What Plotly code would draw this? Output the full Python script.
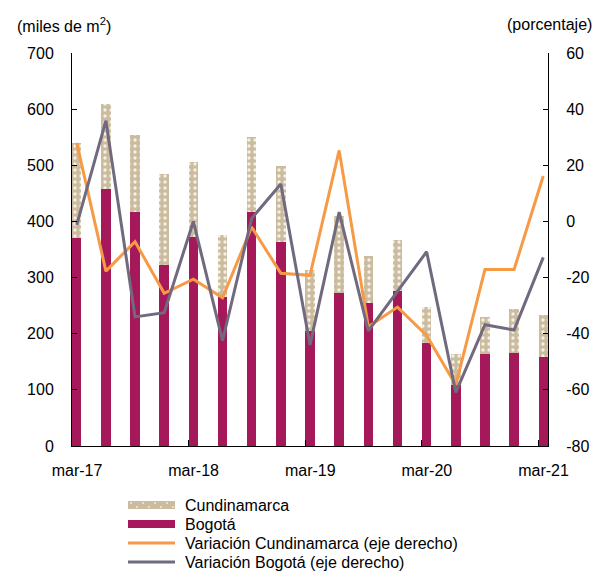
import plotly.graph_objects as go

# quarterly data, mar-17 .. mar-21
quarters = ['mar-17', 'jun-17', 'sep-17', 'dic-17', 'mar-18', 'jun-18', 'sep-18', 'dic-18',
            'mar-19', 'jun-19', 'sep-19', 'dic-19', 'mar-20', 'jun-20', 'sep-20', 'dic-20', 'mar-21']
bogota = [371, 458, 417, 322, 372, 266, 417, 364, 205, 272, 255, 276, 184, 108, 163, 166, 159]
cundinamarca = [169, 152, 137, 162, 133, 109, 134, 134, 109, 138, 84, 91, 64, 56, 67, 78, 75]
var_cundinamarca = [28, -17.7, -7.2, -25.6, -20.6, -27.2, -2, -18.5, -19.2, 25.3, -37.5, -30.5,
                    -40.6, -58.3, -17.1, -17.1, 16.2]
var_bogota = [-1.2, 35.9, -34, -32.5, 0, -42.5, 1.1, 13.3, -44, 3.3, -39, -25, -10.8, -60.9,
              -36.8, -38.7, -12.8]
x_tick_labels = ['mar-17', 'mar-18', 'mar-19', 'mar-20', 'mar-21']
y2_tick_vals = [-80, -60, -40, -20, 0, 20, 40, 60]
y2_tick_labels = ['-80', '-60', '-40', '-20', '0', '20', '40', '60']

MAGENTA = '#A5195B'
BEIGE = '#CBBC9F'
ORANGE = '#F79A46'
GRAY = '#716A7F'
FONT = 'Liberation Sans, Arial, sans-serif'

w = 0.325  # bar width in quarter units, bars start at their date
idx = list(range(len(quarters)))
bar_x = [i + w / 2 for i in idx]

fig = go.Figure()
fig.add_trace(go.Bar(x=bar_x, y=bogota, width=w, name='Bogotá',
                     marker=dict(color=MAGENTA, line=dict(width=0)), showlegend=False))
fig.add_trace(go.Bar(x=bar_x, y=cundinamarca, width=w, name='Cundinamarca',
                     marker=dict(color=BEIGE, line=dict(width=0),
                                 pattern=dict(shape='.', fillmode='replace', bgcolor=BEIGE,
                                              fgcolor='#F4F0E6', size=6, solidity=0.25)),
                     showlegend=False))
fig.add_trace(go.Scatter(x=bar_x, y=var_cundinamarca, yaxis='y2', mode='lines',
                         name='Variación Cundinamarca (eje derecho)',
                         line=dict(color=ORANGE, width=3), showlegend=False))
fig.add_trace(go.Scatter(x=bar_x, y=var_bogota, yaxis='y2', mode='lines',
                         name='Variación Bogotá (eje derecho)',
                         line=dict(color=GRAY, width=3), showlegend=False))

# page body has an 8px margin, so the figure is 8px smaller and everything shifts by 8
fig.update_layout(
    width=593, height=567,
    margin=dict(l=64, r=53, t=45, b=129),
    paper_bgcolor='white', plot_bgcolor='white',
    barmode='stack',
    font=dict(family=FONT, size=16, color='black'),
    xaxis=dict(range=[0, 16 + w], tickvals=[0, 4, 8, 12, 16], ticktext=x_tick_labels,
               ticks='inside', ticklen=6, tickcolor='black', showline=True, linecolor='black',
               linewidth=1, showgrid=False, zeroline=False, ticklabelshift=5,
               ticklabelstandoff=10),
    yaxis=dict(range=[0, 700], dtick=100, ticks='inside', ticklen=5, tickcolor='black',
               showline=True, linecolor='black', linewidth=1, showgrid=False, zeroline=False,
               ticklabelstandoff=14),
    yaxis2=dict(range=[-80, 60], tickvals=y2_tick_vals, ticktext=y2_tick_labels,
                overlaying='y', side='right', ticks='inside',
                ticklen=5, tickcolor='black', showline=True, linecolor='black', linewidth=1,
                showgrid=False, zeroline=False, ticklabelstandoff=14),
    showlegend=False,
)

fig.add_annotation(text='(miles de m<sup>2</sup>)', xref='paper', yref='paper',
                   x=-0.12, y=1.072, xanchor='left', yanchor='middle', showarrow=False,
                   font=dict(size=16))
fig.add_annotation(text='(porcentaje)', xref='paper', yref='paper',
                   x=1.097, y=1.072, xanchor='right', yanchor='middle', showarrow=False,
                   font=dict(size=16))

# legend drawn by hand to get the wide Excel-style swatches
def px_x(p):
    return (p - 72) / 476

def px_y(p):
    return (446 - p) / 393

legend_rows = [('Cundinamarca', 505), ('Bogotá', 524),
               ('Variación Cundinamarca (eje derecho)', 543), ('Variación Bogotá (eje derecho)', 562)]
x0, x1 = px_x(128), px_x(175)
for k, (label, yc) in enumerate(legend_rows):
    if k == 0:
        fig.add_shape(type='rect', xref='paper', yref='paper', x0=x0, x1=x1,
                      y0=px_y(yc + 4), y1=px_y(yc - 4), fillcolor=BEIGE, line=dict(width=0))
        for j in range(8):
            cx = 131 + j * 6
            cy = yc - 2 if j % 2 == 0 else yc + 2
            fig.add_shape(type='circle', xref='paper', yref='paper',
                          x0=px_x(cx - 0.9), x1=px_x(cx + 0.9),
                          y0=px_y(cy + 0.9), y1=px_y(cy - 0.9),
                          fillcolor='#F4F0E6', line=dict(width=0))
    elif k == 1:
        fig.add_shape(type='rect', xref='paper', yref='paper', x0=x0, x1=x1,
                      y0=px_y(yc + 4), y1=px_y(yc - 4), fillcolor=MAGENTA, line=dict(width=0))
    else:
        fig.add_shape(type='line', xref='paper', yref='paper', x0=x0, x1=x1,
                      y0=px_y(yc), y1=px_y(yc),
                      line=dict(color=ORANGE if k == 2 else GRAY, width=3))
    fig.add_annotation(text=label, xref='paper', yref='paper', x=px_x(183), y=px_y(yc),
                       xanchor='left', yanchor='middle', showarrow=False,
                       font=dict(size=16))

fig.write_html("out.html")
